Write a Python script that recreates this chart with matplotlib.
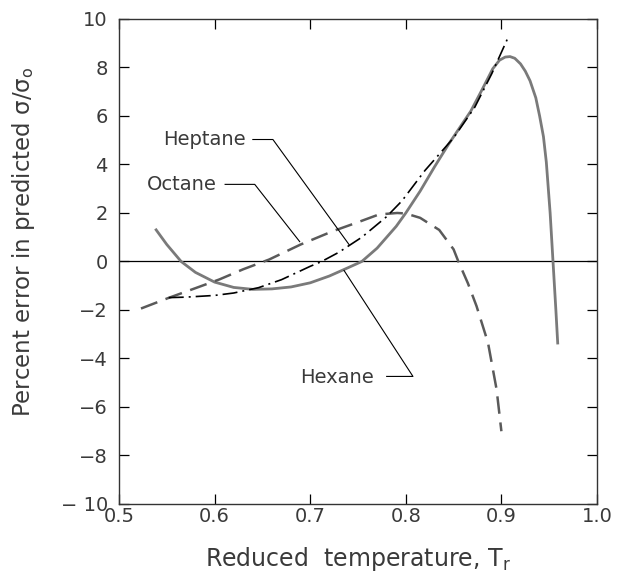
import matplotlib.pyplot as plt
import numpy as np

# Percent error in predicted sigma/sigma_o vs reduced temperature
hexane_tr = [0.538, 0.550, 0.565, 0.580, 0.600, 0.620, 0.640, 0.660, 0.680, 0.700,
             0.720, 0.740, 0.754, 0.770, 0.790, 0.800, 0.815, 0.830, 0.845, 0.868,
             0.880, 0.891, 0.898, 0.904, 0.909, 0.914, 0.920, 0.925, 0.930, 0.936,
             0.940, 0.944, 0.947, 0.951, 0.954, 0.957, 0.959]
hexane_err = [1.35, 0.70, 0.00, -0.45, -0.85, -1.07, -1.15, -1.13, -1.05, -0.88,
              -0.60, -0.25, 0.00, 0.55, 1.45, 2.00, 2.90, 3.90, 4.85, 6.20,
              7.10, 7.95, 8.30, 8.43, 8.45, 8.38, 8.15, 7.85, 7.45, 6.75,
              6.00, 5.15, 4.10, 2.00, 0.00, -2.00, -3.42]

heptane_tr = [0.552, 0.570, 0.600, 0.620, 0.646, 0.670, 0.700, 0.712, 0.730, 0.754,
              0.780, 0.796, 0.820, 0.850, 0.872, 0.890, 0.906]
heptane_err = [-1.49, -1.47, -1.40, -1.30, -1.08, -0.75, -0.20, 0.00, 0.38, 1.00,
               1.85, 2.50, 3.75, 5.10, 6.35, 7.75, 9.15]

octane_tr = [0.523, 0.552, 0.580, 0.605, 0.630, 0.657, 0.690, 0.723, 0.750, 0.772,
             0.791, 0.800, 0.815, 0.835, 0.850, 0.855, 0.865, 0.874, 0.886, 0.895, 0.900]
octane_err = [-1.94, -1.50, -1.10, -0.74, -0.32, 0.08, 0.70, 1.24, 1.62, 1.94,
              2.00, 1.98, 1.80, 1.30, 0.50, 0.00, -0.90, -1.84, -3.35, -5.28, -7.00]

# label text anchor (right end) and leader polylines
labels = {
    'Heptane': ((0.633, 5.03), [(0.640, 5.03), (0.661, 5.03), (0.7406, 0.70)]),
    'Octane': ((0.6025, 3.18), [(0.611, 3.18), (0.642, 3.18), (0.689, 0.82)]),
}
hexane_label = (0.689, -4.78)
hexane_leader = [(0.780, -4.74), (0.8075, -4.74), (0.7354, -0.37)]

plt.rcParams['font.family'] = ['DejaVu Sans']
txt = '#3a3a3a'

fig = plt.figure(figsize=(6.24, 5.88), dpi=100)
ax = fig.add_axes([0.1907, 0.1429, 0.766, 0.8248])

ax.axhline(0, color='black', linewidth=0.9)

ax.plot(hexane_tr, hexane_err, color='#7a7a7a', linewidth=2.0,
        solid_joinstyle='round', solid_capstyle='butt')
ax.plot(octane_tr, octane_err, color='#5a5a5a', linewidth=1.8,
        dashes=(7, 3.5))
ax.plot(heptane_tr, heptane_err, color='black', linewidth=1.2,
        dashes=(9, 3, 1.2, 3))

for name, (pos, leader) in labels.items():
    ax.text(pos[0], pos[1], name, ha='right', va='center', fontsize=14, color=txt)
    lx, ly = zip(*leader)
    ax.plot(lx, ly, color='black', linewidth=0.8)

ax.text(hexane_label[0], hexane_label[1], 'Hexane', ha='left', va='center',
        fontsize=14, color=txt)
lx, ly = zip(*hexane_leader)
ax.plot(lx, ly, color='black', linewidth=0.8)

ax.set_xlim(0.5, 1.0)
ax.set_ylim(-10, 10)
ax.set_xticks(np.arange(0.5, 1.01, 0.1))
ax.set_xticklabels(['0.5', '0.6', '0.7', '0.8', '0.9', '1.0'])
ax.set_yticks(np.arange(-10, 11, 2))
ax.set_yticklabels(['\u2212 10', '\u22128', '\u22126', '\u22124', '\u22122', '0',
                    '2', '4', '6', '8', '10'])
ax.tick_params(direction='in', length=7, width=0.9, top=True, right=True,
               labelsize=14, labelcolor=txt)
ax.tick_params(axis='x', pad=2)
ax.tick_params(axis='y', pad=8)
for s in ax.spines.values():
    s.set_linewidth(1.0)
    s.set_color('#333333')

ax.set_xlabel('Reduced  temperature, $\\mathregular{T_r}$', fontsize=17,
              color=txt, labelpad=14)
ax.set_ylabel('Percent error in predicted $\\mathregular{\\sigma/\\sigma_o}$',
              fontsize=16.5, color=txt)
ax.yaxis.set_label_coords(-0.172, 0.54)

fig.savefig('out.png', dpi=100)
